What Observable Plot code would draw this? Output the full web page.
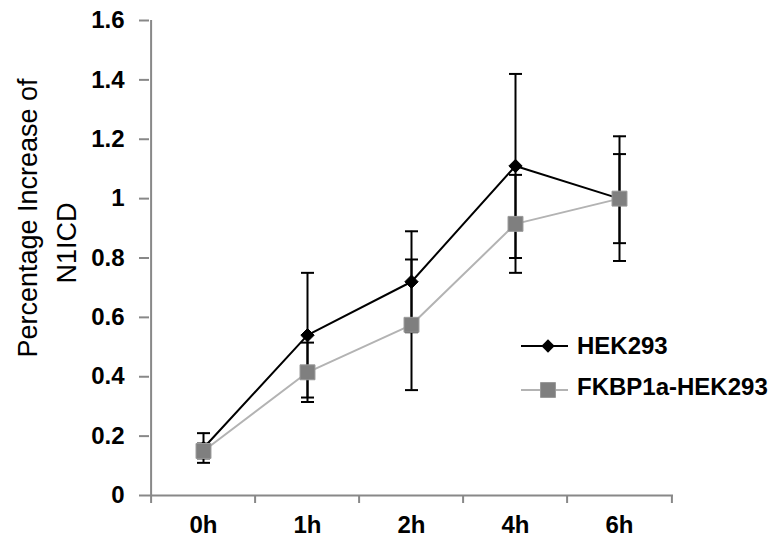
<!DOCTYPE html>
<html>
<head>
<meta charset="utf-8">
<script src="https://cdn.jsdelivr.net/npm/d3@7"></script>
<script src="https://cdn.jsdelivr.net/npm/@observablehq/plot@0.6"></script>
<style>
  html, body { margin: 0; padding: 0; background: #fff; }
  #chart { width: 771px; height: 540px; }
</style>
</head>
<body>
<div id="chart"></div>
<script>
// ---- data ----
const categories = ["0h", "1h", "2h", "4h", "6h"];
const hekValues  = [0.16, 0.54, 0.72, 1.11, 1.00];
const hekErrors  = [0.05, 0.21, 0.17, 0.31, 0.15];
const fkbpValues = [0.15, 0.415, 0.575, 0.915, 1.00];
const fkbpErrors = [0.025, 0.10, 0.22, 0.165, 0.21];
const yTicks = [0, 0.2, 0.4, 0.6, 0.8, 1, 1.2, 1.4, 1.6];
const seriesNames = ["HEK293", "FKBP1a-HEK293"];
const yTitleLines = ["Percentage Increase of", "N1ICD"];

const hekData = categories.map((t, i) => ({t, v: hekValues[i], e: hekErrors[i]}));
const fkbpData = categories.map((t, i) => ({t, v: fkbpValues[i], e: fkbpErrors[i]}));

// ---- layout / style ----
const W = 771, H = 540;
const mL = 149, mR = 98, mT = 20, mB = 45;
const bw = (W - mL - mR) / categories.length;
const axisColor = "#888888";
const font = "'Liberation Sans', Arial, sans-serif";
const hekColor = "#000000";
const fkbpLine = "#b3b3b3";
const fkbpFill = "#7f7f7f";

const capSymbol = {
  draw(ctx, size) {
    const w = Math.sqrt(size);
    ctx.moveTo(-w, 0);
    ctx.lineTo(w, 0);
  }
};
const capR = 6.5 / Math.sqrt(Math.PI);

function errorMarks(data) {
  return [
    Plot.ruleX(data, {x: "t", y1: d => d.v - d.e, y2: d => d.v + d.e, stroke: "#000", strokeWidth: 2}),
    Plot.dot(data, {x: "t", y: d => d.v + d.e, symbol: capSymbol, r: capR, stroke: "#000", strokeWidth: 2, fill: "none"}),
    Plot.dot(data, {x: "t", y: d => d.v - d.e, symbol: capSymbol, r: capR, stroke: "#000", strokeWidth: 2, fill: "none"})
  ];
}

const plot = Plot.plot({
  width: W,
  height: H,
  marginLeft: mL, marginRight: mR, marginTop: mT, marginBottom: mB,
  style: {fontFamily: font, background: "#fff", color: "#000", overflow: "visible"},
  x: {type: "band", domain: categories, padding: 0, label: null},
  y: {domain: [0, 1.6], label: null},
  marks: [
    // axes
    Plot.axisY({ticks: yTicks, tickFormat: d => String(d), tickSize: 10, tickPadding: 15,
      stroke: axisColor, strokeWidth: 2, fontSize: 24, fontWeight: "bold", fill: "#000", label: null}),
    Plot.axisX({tickSize: 0, tickPadding: 20, fontSize: 24, fontWeight: "bold", fill: "#000", label: null}),
    Plot.axisX({tickSize: 8, text: null, dx: -bw / 2, stroke: axisColor, strokeWidth: 2, label: null}),
    Plot.axisX({ticks: categories.slice(-1), tickSize: 8, text: null, dx: bw / 2, stroke: axisColor, strokeWidth: 2, label: null}),
    Plot.ruleY([0], {stroke: axisColor, strokeWidth: 2}),
    Plot.ruleX(categories.slice(0, 1), {y1: 0, y2: 1.6, dx: -bw / 2, stroke: axisColor, strokeWidth: 2}),
    // y title
    Plot.text(yTitleLines.slice(0, 1), {text: d => d, frameAnchor: "left", textAnchor: "middle", rotate: -90, dx: -121, dy: -40, fontSize: 27, fill: "#000"}),
    Plot.text(yTitleLines.slice(1, 2), {text: d => d, frameAnchor: "left", textAnchor: "middle", rotate: -90, dx: -82, dy: -15, fontSize: 27, fill: "#000"}),
    // HEK293
    Plot.line(hekData, {x: "t", y: "v", stroke: hekColor, strokeWidth: 2}),
    ...errorMarks(hekData),
    Plot.dot(hekData, {x: "t", y: "v", symbol: "diamond2", r: 6, fill: hekColor, stroke: hekColor, strokeWidth: 1}),
    // FKBP1a-HEK293
    Plot.line(fkbpData, {x: "t", y: "v", stroke: fkbpLine, strokeWidth: 2}),
    ...errorMarks(fkbpData),
    Plot.dot(fkbpData, {x: "t", y: "v", symbol: "square2", r: 9.5, fill: fkbpFill, stroke: "#999", strokeWidth: 1})
  ]
});

document.getElementById("chart").appendChild(plot);

// ---- legend ----
const svg = d3.select(plot);
const lg = svg.append("g").attr("font-family", font).attr("font-size", 24)
  .attr("font-weight", "bold").attr("text-anchor", "start");
const rows = [
  {name: seriesNames[0], y: 346, line: hekColor, sym: "diamond"},
  {name: seriesNames[1], y: 390, line: fkbpLine, sym: "square"}
];
rows.forEach(r => {
  lg.append("line").attr("x1", 521).attr("x2", 568).attr("y1", r.y).attr("y2", r.y)
    .attr("stroke", r.line).attr("stroke-width", 2);
  if (r.sym === "diamond") {
    lg.append("path").attr("d", d3.symbol(d3.symbolDiamond2, Math.PI * 6 * 6)())
      .attr("transform", `translate(548,${r.y})`).attr("fill", hekColor);
  } else {
    lg.append("path").attr("d", d3.symbol(d3.symbolSquare2, Math.PI * 9.5 * 9.5)())
      .attr("transform", `translate(548,${r.y})`).attr("fill", fkbpFill).attr("stroke", "#999");
  }
  lg.append("text").attr("x", 577).attr("y", r.y - (r.sym === "square" ? 3 : 0)).attr("dy", "0.35em")
    .attr("text-anchor", "start").attr("fill", "#000").text(r.name);
});
</script>
</body>
</html>
